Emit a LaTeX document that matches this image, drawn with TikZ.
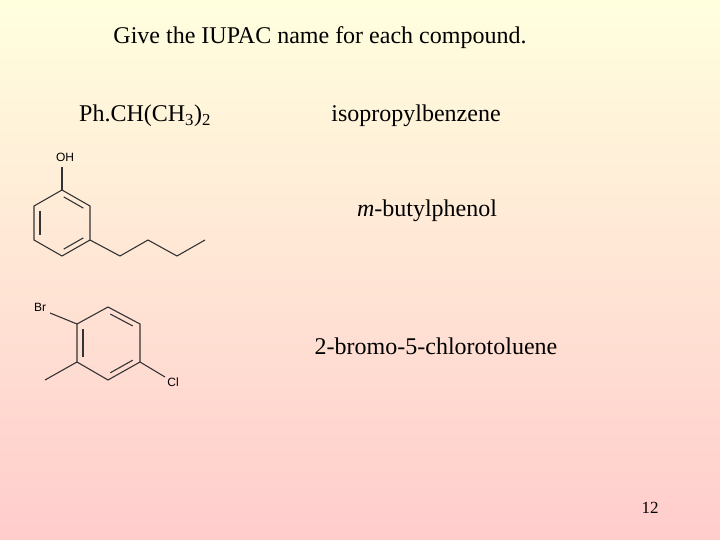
\documentclass[tikz,border=0pt]{standalone}
\usepackage{fontspec}
\usetikzlibrary{calc}
\setmainfont{Liberation Serif}
\newfontfamily\atomfont{Liberation Sans}
\begin{document}
\begin{tikzpicture}[x=1pt,y=-1pt,
  txt/.style={inner sep=0pt,font=\fontsize{24}{26}\selectfont},
  atom/.style={inner sep=0pt,font=\atomfont\fontsize{12}{13}\selectfont},
  bond/.style={line width=1.1pt,black!80}]
\shade[top color={rgb,255:red,255;green,255;blue,222},bottom color={rgb,255:red,255;green,204;blue,204}] (0,0) rectangle (720,540);
\useasboundingbox (0,0) rectangle (720,540);
\node[txt] (title) at (320,38) {Give the IUPAC name for each compound.};
\node[txt,anchor=west] (f1) at (79,116) {Ph.CH(CH\textsubscript{3})\textsubscript{2}};
\node[txt] (n1) at (416,116) {isopropylbenzene};
\node[txt] (n2) at (427,211) {\textit{m}-butylphenol};
\node[txt] (n3) at (436,346) {2-bromo-5-chlorotoluene};
\node[inner sep=0pt,font=\fontsize{17}{19}\selectfont] (pg) at (650,508) {12};
% m-butylphenol
\node[atom] (oh) at (65,157) {OH};
\coordinate (a1) at (62,190); \coordinate (a2) at (90,206); \coordinate (a3) at (90,240);
\coordinate (a4) at (62,256); \coordinate (a5) at (34,240); \coordinate (a6) at (34,206);
\draw[bond] (a1)--(a2)--(a3)--(a4)--(a5)--(a6)--cycle;
\draw[bond] (62,167) -- (a1);
\draw[bond] ($(a1)!0.15!(a2)+(-2.5,4.5)$) -- ($(a1)!0.85!(a2)+(-2.5,4.5)$);
\draw[bond] (40,211) -- (40,235);
\draw[bond] ($(a3)!0.15!(a4)+(-2.5,-4.5)$) -- ($(a3)!0.85!(a4)+(-2.5,-4.5)$);
\coordinate (c1) at (120,256); \coordinate (c2) at (148,240); \coordinate (c3) at (177,256); \coordinate (c4) at (205,240);
\draw[bond] (a3)--(c1)--(c2)--(c3)--(c4);
% 2-bromo-5-chlorotoluene
\node[atom] (br) at (40,307) {Br};
\node[atom] (cl) at (173,382) {Cl};
\coordinate (b1) at (108,307); \coordinate (b2) at (140,324); \coordinate (b3) at (140,362);
\coordinate (b4) at (108,380); \coordinate (b5) at (77,362); \coordinate (b6) at (77,324);
\draw[bond] (b1)--(b2)--(b3)--(b4)--(b5)--(b6)--cycle;
\draw[bond] ($(b1)!0.15!(b2)+(-2.5,4.5)$) -- ($(b1)!0.85!(b2)+(-2.5,4.5)$);
\draw[bond] ($(b3)!0.15!(b4)+(-2.5,-4.5)$) -- ($(b3)!0.85!(b4)+(-2.5,-4.5)$);
\draw[bond] (83,329) -- (83,357);
\draw[bond] (50,313) -- (b6);
\draw[bond] (b5) -- (45,380);
\draw[bond] (b3) -- (165,377);
\end{tikzpicture}
\end{document}
